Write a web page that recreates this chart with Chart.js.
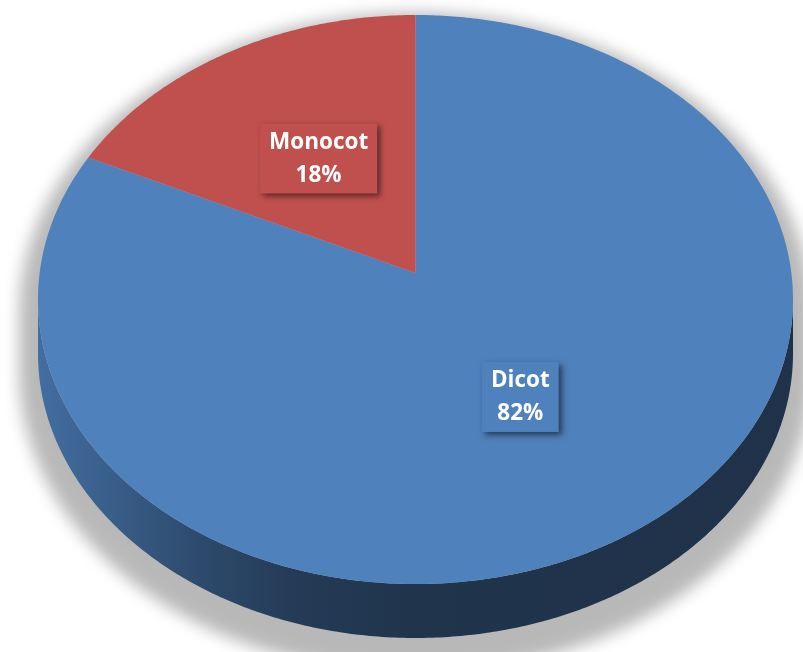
<!DOCTYPE html>
<html>
<head>
<meta charset="utf-8">
<script src="https://cdn.jsdelivr.net/npm/chart.js@4.4.0/dist/chart.umd.min.js"></script>
<style>
  html, body { margin: 0; padding: 0; background: #fff; }
  #wrap { width: 803px; height: 652px; }
</style>
</head>
<body>
<div id="wrap"><canvas id="chart"></canvas></div>
<script>
const categories = ['Dicot', 'Monocot'];
const shares = [82, 18];
const sliceColors = ['#4f81bd', '#c0504d'];

// 3D look
const DEPTH = 54;           // height of the side wall
const PERSPECTIVE = -0.093; // front edge nearer than the back
const LABEL_RADIUS = 0.5;
const LABEL_FONT = "bold 22.5px 'Open Sans', sans-serif";

function shade(hex, f) {
    const n = parseInt(hex.slice(1), 16);
    const r = Math.round(((n >> 16) & 255) * f);
    const g = Math.round(((n >> 8) & 255) * f);
    const b = Math.round((n & 255) * f);
    return `rgb(${r},${g},${b})`;
}

// maps (canvas angle, radius 0..1) of the flat pie onto the tilted top face
function makeProjector(area) {
    const p = PERSPECTIVE;
    const cx = (area.left + area.right) / 2;
    const half = (area.right - area.left) / 2;
    const top = area.top;
    const bottom = area.bottom - DEPTH;
    const b = (bottom - top) / (1 / (1 - p) + 1 / (1 + p));
    const cy = top + b / (1 - p);
    const a = half * Math.sqrt(1 - p * p);
    return (ang, r) => {
        const s = 1 + p * r * Math.sin(ang);
        return { x: cx + a * r * Math.cos(ang) / s, y: cy + b * r * Math.sin(ang) / s };
    };
}

function arcPoints(proj, from, to, dy) {
    const pts = [];
    const steps = Math.max(2, Math.ceil(Math.abs(to - from) / 0.01));
    for (let i = 0; i <= steps; i++) {
        const q = proj(from + (to - from) * i / steps, 1);
        pts.push({ x: q.x, y: q.y + dy });
    }
    return pts;
}

function tracePoints(ctx, pts, first) {
    pts.forEach((q, i) => {
        if (i === 0 && first) ctx.moveTo(q.x, q.y);
        else ctx.lineTo(q.x, q.y);
    });
}

const pie3d = {
    id: 'pie3d',
    beforeDatasetsDraw(chart) {
        const ctx = chart.ctx;
        const area = chart.chartArea;
        const proj = makeProjector(area);
        const arcs = chart.getDatasetMeta(0).data;
        const aR = Math.asin(-PERSPECTIVE);
        const aL = Math.PI - aR;

        // soft drop shadow, grows towards the front
        const c = proj(0, 0);
        ctx.save();
        ctx.beginPath();
        ctx.translate(-10000, 0);
        ctx.translate(c.x, area.top + 40);
        ctx.scale(1.05, 1.06);
        ctx.translate(-c.x, -(area.top + 40));
        tracePoints(ctx, arcPoints(proj, aL, aR + 2 * Math.PI, 0), true);
        tracePoints(ctx, arcPoints(proj, aR, aL, DEPTH), false);
        ctx.closePath();
        ctx.shadowColor = 'rgba(0,0,0,0.28)';
        ctx.shadowBlur = 16;
        ctx.shadowOffsetX = 10000;
        ctx.fillStyle = '#000';
        ctx.fill();
        ctx.restore();

        // side walls, only the part that faces the viewer
        arcs.forEach((arc, i) => {
            const color = sliceColors[i];
            for (let k = -1; k <= 1; k++) {
                const s = Math.max(arc.startAngle + 2 * Math.PI * k, aR);
                const e = Math.min(arc.endAngle + 2 * Math.PI * k, aL);
                if (e <= s) continue;
                const grad = ctx.createLinearGradient(area.left, 0, area.right, 0);
                grad.addColorStop(0, shade(color, 0.85));
                grad.addColorStop(0.215, shade(color, 0.57));
                grad.addColorStop(0.35, shade(color, 0.45));
                grad.addColorStop(0.5, shade(color, 0.4));
                grad.addColorStop(1, shade(color, 0.39));
                ctx.beginPath();
                tracePoints(ctx, arcPoints(proj, s, e, 0), true);
                tracePoints(ctx, arcPoints(proj, e, s, DEPTH), false);
                ctx.closePath();
                ctx.fillStyle = grad;
                ctx.fill();
            }
        });

        // top faces
        arcs.forEach((arc, i) => {
            const o = proj(0, 0);
            ctx.beginPath();
            ctx.moveTo(o.x, o.y);
            tracePoints(ctx, arcPoints(proj, arc.startAngle, arc.endAngle, 0), false);
            ctx.closePath();
            ctx.fillStyle = sliceColors[i];
            ctx.fill();
        });

        // data labels
        const total = shares.reduce((s, v) => s + v, 0);
        ctx.font = LABEL_FONT;
        ctx.textAlign = 'center';
        ctx.textBaseline = 'middle';
        arcs.forEach((arc, i) => {
            const mid = (arc.startAngle + arc.endAngle) / 2;
            const at = proj(mid, LABEL_RADIUS);
            const lines = [categories[i], Math.round(shares[i] / total * 100) + '%'];
            const w = Math.max(...lines.map(t => ctx.measureText(t).width)) + 18;
            const h = 70;
            ctx.save();
            ctx.shadowColor = 'rgba(0,0,0,0.55)';
            ctx.shadowBlur = 6;
            ctx.shadowOffsetX = 3;
            ctx.shadowOffsetY = 3;
            ctx.fillStyle = sliceColors[i];
            ctx.fillRect(at.x - w / 2, at.y - h / 2, w, h);
            ctx.restore();
            ctx.fillStyle = '#fff';
            ctx.fillText(lines[0], at.x, at.y - 16);
            ctx.fillText(lines[1], at.x, at.y + 17);
        });
        return false;
    }
};

new Chart(document.getElementById('chart'), {
    type: 'pie',
    data: {
        labels: categories,
        datasets: [{ data: shares, backgroundColor: sliceColors, borderWidth: 0 }]
    },
    options: {
        responsive: true,
        maintainAspectRatio: false,
        animation: false,
        layout: { padding: { left: 38, top: 15, right: 10, bottom: 14 } },
        plugins: {
            legend: { display: false },
            tooltip: { enabled: false }
        }
    },
    plugins: [pie3d]
});
</script>
</body>
</html>
